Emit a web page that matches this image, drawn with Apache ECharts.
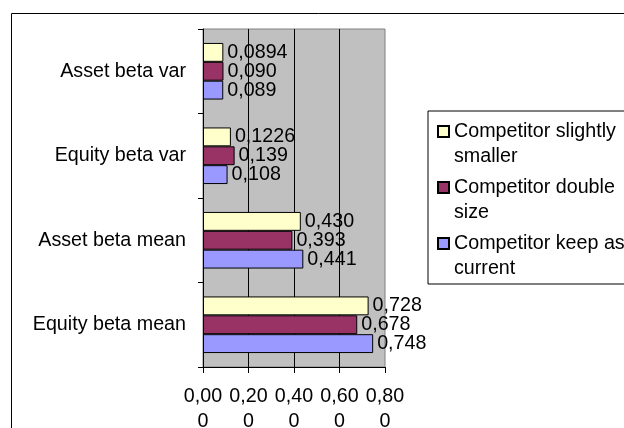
<!DOCTYPE html>
<html><head><meta charset="utf-8">
<script src="https://cdn.jsdelivr.net/npm/echarts@6/dist/echarts.min.js"></script>
<style>html,body{margin:0;padding:0;background:#fff}#c{width:624px;height:428px}</style>
</head><body><div id="c"></div>
<script>
const categories = ['Equity beta mean', 'Asset beta mean', 'Equity beta var', 'Asset beta var'];
const seriesNames = ['Competitor slightly smaller', 'Competitor double size', 'Competitor keep as current'];
const legendLabels = ['Competitor slightly\nsmaller', 'Competitor double\nsize', 'Competitor keep as\ncurrent'];
const slightlySmaller = [0.728, 0.430, 0.1226, 0.0894];
const doubleSize = [0.678, 0.393, 0.139, 0.090];
const keepCurrent = [0.748, 0.441, 0.108, 0.089];
const slightlySmallerLabels = ['0,728', '0,430', '0,1226', '0,0894'];
const doubleSizeLabels = ['0,678', '0,393', '0,139', '0,090'];
const keepCurrentLabels = ['0,748', '0,441', '0,108', '0,089'];
const xTickValues = [0, 0.2, 0.4, 0.6, 0.8];
const xTickLabels = ['0,000', '0,200', '0,400', '0,600', '0,800'];
const colors = ['#FFFFCC', '#993366', '#9999FF'];

const FONT = 'Liberation Sans, Arial, sans-serif';
const FS = 19.7;
const seriesValues = [slightlySmaller, doubleSize, keepCurrent];
const seriesLabels = [slightlySmallerLabels, doubleSizeLabels, keepCurrentLabels];

const chart = echarts.init(document.getElementById('c'), null, {renderer: 'canvas'});
chart.setOption({
  backgroundColor: '#ffffff',
  animation: false,
  textStyle: {fontFamily: FONT},
  graphic: [{
    type: 'rect', shape: {x: 11.5, y: 13.5, width: 700, height: 500},
    style: {fill: 'none', stroke: '#000', lineWidth: 1}, silent: true, z: -1
  }],
  grid: {
    left: 203, top: 29, width: 182, height: 338,
    containLabel: false, outerBoundsMode: 'none',
    show: true, backgroundColor: '#C0C0C0', borderColor: '#808080', borderWidth: 1
  },
  legend: {
    left: 428, top: 111, orient: 'vertical',
    data: seriesNames,
    backgroundColor: '#fff', borderColor: '#000', borderWidth: 1,
    padding: [7, 30, 2, 9], itemGap: 4,
    itemWidth: 11, itemHeight: 50,
    icon: 'path://M0,0M11,50M0,7L11,7L11,18L0,18Z',
    formatter: name => legendLabels[seriesNames.indexOf(name)],
    textStyle: {fontFamily: FONT, fontSize: FS, color: '#000', lineHeight: 25}
  },
  xAxis: {
    type: 'value', min: 0, max: 0.8, interval: 0.2,
    axisLine: {show: true, lineStyle: {color: '#000', width: 1}},
    axisTick: {show: true, length: 6, lineStyle: {color: '#000'}},
    splitLine: {show: true, showMinLine: false, showMaxLine: false, lineStyle: {color: '#000', width: 1}},
    axisLabel: {
      margin: 17, fontFamily: FONT, fontSize: FS, color: '#000', lineHeight: 25,
      formatter: v => {
        const i = xTickValues.findIndex(t => Math.abs(t - v) < 1e-9);
        const s = i >= 0 ? xTickLabels[i] : '';
        return s.slice(0, 4) + '\n' + s.slice(4);
      }
    }
  },
  yAxis: {
    type: 'category', data: categories,
    axisLine: {show: true, lineStyle: {color: '#000', width: 1}},
    axisTick: {show: true, length: 5, lineStyle: {color: '#000'}},
    axisLabel: {margin: 17, fontFamily: FONT, fontSize: FS, color: '#000'},
    splitLine: {show: false}
  },
  series: seriesNames.map((name, si) => ({
    name: name, type: 'bar',
    data: seriesValues[si],
    barGap: '0%', barCategoryGap: '33%',
    itemStyle: {color: colors[si], borderColor: '#000', borderWidth: 1},
    label: {
      show: true, position: 'right', distance: 4,
      fontFamily: FONT, fontSize: FS, color: '#000',
      formatter: p => seriesLabels[si][p.dataIndex]
    }
  }))
});
</script></body></html>
